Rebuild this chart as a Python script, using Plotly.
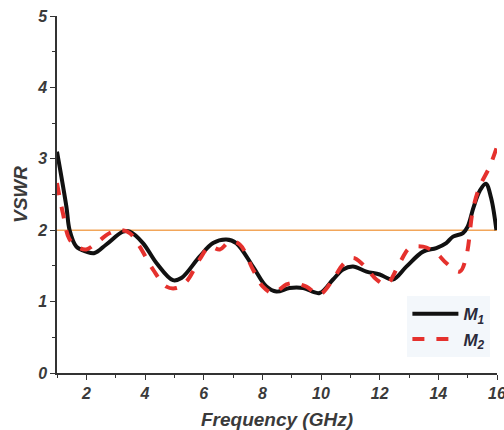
import plotly.graph_objects as go

# Frequency sweep (GHz) and VSWR for the two antenna models
freq_m1 = [1.0, 1.32, 1.43, 1.66, 2.0, 2.28, 2.68, 3.25, 3.48, 3.93, 4.39, 4.95, 5.24,
           5.86, 6.32, 6.77, 7.11, 7.68, 8.14, 8.48, 8.93, 9.39, 9.95, 10.41, 10.75,
           11.09, 11.55, 12.0, 12.45, 12.91, 13.48, 13.93, 14.27, 14.5, 14.84, 15.0,
           15.2, 15.41, 15.62, 15.8, 15.98]
vswr_m1 = [3.1, 2.33, 2.0, 1.77, 1.70, 1.68, 1.80, 1.98, 1.98, 1.82, 1.54, 1.30, 1.33,
           1.63, 1.82, 1.87, 1.82, 1.49, 1.21, 1.14, 1.19, 1.19, 1.12, 1.31, 1.45,
           1.49, 1.42, 1.38, 1.31, 1.49, 1.70, 1.75, 1.82, 1.91, 1.96, 2.05,
           2.32, 2.55, 2.65, 2.45, 2.0]

freq_m2 = [1.0, 1.2, 1.43, 1.77, 2.0, 2.34, 2.8, 3.14, 3.48, 3.82, 4.27, 4.73, 5.07,
           5.41, 5.86, 6.2, 6.55, 6.89, 7.23, 7.68, 8.02, 8.36, 8.82, 9.05, 9.5, 9.95,
           10.41, 10.75, 11.09, 11.43, 11.89, 12.23, 12.68, 13.02, 13.48, 13.93, 14.27,
           14.73, 14.95, 15.18, 15.41, 15.75, 16.0]
vswr_m2 = [2.66, 2.24, 1.87, 1.75, 1.73, 1.82, 1.96, 2.0, 1.96, 1.77, 1.45, 1.21, 1.19,
           1.28, 1.59, 1.77, 1.73, 1.84, 1.80, 1.45, 1.21, 1.12, 1.24, 1.26, 1.21, 1.10,
           1.31, 1.52, 1.61, 1.52, 1.31, 1.24, 1.54, 1.75, 1.77, 1.68, 1.54,
           1.42, 1.63, 2.29, 2.61, 2.89, 3.17]

vswr_limit = 2.0
x_ticks = [2, 4, 6, 8, 10, 12, 14, 16]
y_ticks = [0, 1, 2, 3, 4, 5]

font_family = "Liberation Sans, Arial, sans-serif"
text_color = "#3a3a3a"

fig = go.Figure()

fig.add_shape(type="line", xref="x", yref="y", x0=1, x1=16, y0=vswr_limit, y1=vswr_limit,
              line=dict(color="#F2A65A", width=1.5), layer="below")

fig.add_trace(go.Scatter(
    x=freq_m1, y=vswr_m1, mode="lines", name="<b><i>M</i></b><sub><b><i>1</i></b></sub>",
    line=dict(color="#111111", width=4, shape="spline", smoothing=1.0),
))
fig.add_trace(go.Scatter(
    x=freq_m2, y=vswr_m2, mode="lines", name="<b><i>M</i></b><sub><b><i>2</i></b></sub>",
    line=dict(color="#E5312D", width=4, dash="dash", shape="spline", smoothing=1.0),
))

fig.update_layout(
    width=504, height=430,
    margin=dict(l=57, r=7, t=16, b=57),
    paper_bgcolor="white", plot_bgcolor="white",
    font=dict(family=font_family, color=text_color),
    legend=dict(
        x=0.985, y=0.215, xanchor="right", yanchor="top",
        bgcolor="rgba(238,243,250,0.7)", borderwidth=0,
        font=dict(size=17, color="#2a2a3a", family=font_family),
        tracegroupgap=2, itemwidth=46,
    ),
    showlegend=True,
)

fig.update_xaxes(
    range=[1, 16], tickvals=x_ticks, ticktext=[f"<b><i>{v}</i></b>" for v in x_ticks],
    ticklabeloverflow="allow", automargin=False,
    showgrid=False, zeroline=False, showline=True, linecolor="#333", linewidth=1.5,
    ticks="outside", ticklen=5, tickwidth=1.2, tickcolor="#333",
    minor=dict(dtick=1, tick0=1, ticks="outside", ticklen=3, tickcolor="#333"),
    tickfont=dict(size=16, color=text_color),
    title=dict(text="<b><i>Frequency (GHz)</i></b>", font=dict(size=19, color=text_color), standoff=13),
)
fig.update_yaxes(
    range=[0, 5], tickvals=y_ticks, ticktext=[f"<b><i>{v}</i></b>" for v in y_ticks],
    automargin=False,
    showgrid=False, zeroline=False, showline=True, linecolor="#333", linewidth=1.5,
    ticks="outside", ticklen=5, tickwidth=1.2, tickcolor="#333",
    minor=dict(dtick=0.5, tick0=0, ticks="outside", ticklen=3, tickcolor="#333"),
    tickfont=dict(size=16, color=text_color),
    title=dict(text="<b><i>VSWR</i></b>", font=dict(size=19, color=text_color), standoff=4),
)

fig.write_html("out.html")
